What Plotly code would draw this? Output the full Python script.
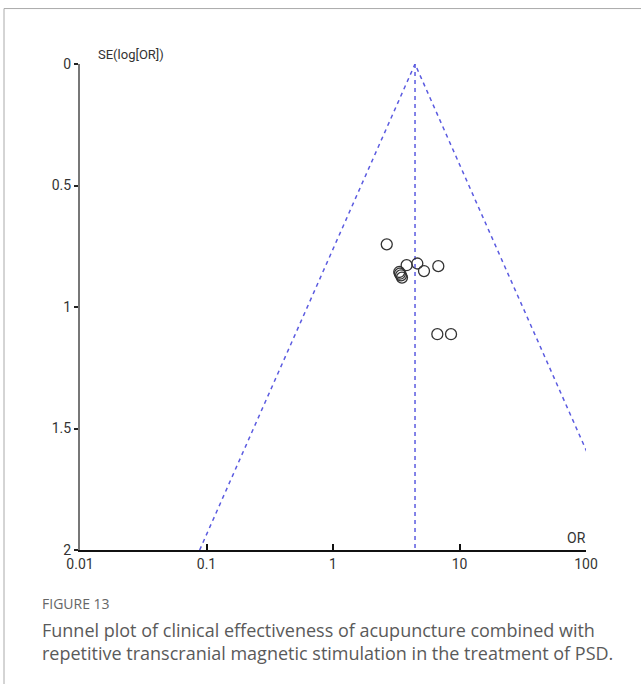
import numpy as np
import plotly.graph_objects as go

# Study estimates
study_or = [2.66, 3.34, 3.38, 3.45, 3.51, 3.82, 4.64, 5.24, 6.80, 6.68, 8.57]
study_se = [0.742, 0.856, 0.863, 0.870, 0.879, 0.828, 0.821, 0.852, 0.832, 1.112, 1.112]

pooled_or = 4.45
se_range = [0, 2]
z = 1.96

x_ticks = [0.01, 0.1, 1, 10, 100]
x_tick_labels = ["0.01", "0.1", "1", "10", "100"]
y_ticks = [0, 0.5, 1, 1.5, 2]
y_tick_labels = ["0", "0.5", "1", "1.5", "2"]

caption_head = "FIGURE 13"
caption_lines = [
    "Funnel plot of clinical effectiveness of acupuncture combined with",
    "repetitive transcranial magnetic stimulation in the treatment of PSD.",
]

W, H = 641, 684
L, R, T, B = 80, 586, 63.5, 550  # plot area in pixels
pw, ph = R - L, B - T


def px(x):
    return (x - L) / pw


def py(y):
    return (B - y) / ph


tick_font = dict(family="Roboto, Liberation Sans, sans-serif", size=14, color="#333")
funnel_color = "#5b5be0"

fig = go.Figure()

# funnel lines
lnp = np.log(pooled_or)
se_max = se_range[1]
fig.add_trace(go.Scatter(
    x=[np.exp(lnp - z * se_max), pooled_or, np.exp(lnp + z * se_max)],
    y=[se_max, se_range[0], se_max],
    mode="lines", line=dict(color=funnel_color, width=1.5, dash="4px,4px"),
    hoverinfo="skip", showlegend=False,
))
fig.add_trace(go.Scatter(
    x=[pooled_or, pooled_or], y=se_range,
    mode="lines", line=dict(color=funnel_color, width=1.5, dash="4px,4px"),
    hoverinfo="skip", showlegend=False,
))
# studies
fig.add_trace(go.Scatter(
    x=study_or, y=study_se, mode="markers",
    marker=dict(symbol="circle-open", size=11, color="#333", line=dict(width=1.3, color="#333")),
    showlegend=False,
))

fig.update_xaxes(
    type="log", range=[-2, 2], tickvals=x_ticks, ticktext=x_tick_labels,
    showgrid=False, zeroline=False, showline=True, linecolor="#111", linewidth=2,
    ticks="inside", ticklen=6, tickwidth=1.5, tickcolor="#111", tickfont=tick_font,
)
fig.update_yaxes(
    range=[2, 0], tickvals=y_ticks, ticktext=y_tick_labels,
    showgrid=False, zeroline=False, showline=True, linecolor="#777", linewidth=2,
    ticks="outside", ticklen=4, tickwidth=1.5, tickcolor="#222", tickfont=tick_font,
)

cap_font = dict(family="Open Sans, sans-serif", size=18, color="#5a5a5a")
annotations = [
    dict(text="SE(log[OR])", x=px(96), y=py(54), xref="paper", yref="paper",
         xanchor="left", yanchor="middle", showarrow=False,
         font=dict(family="Roboto, sans-serif", size=13, color="#333")),
    dict(text="OR", x=px(576), y=py(538), xref="paper", yref="paper",
         xanchor="center", yanchor="middle", showarrow=False, font=tick_font),
    dict(text=caption_head, x=px(40), y=py(604), xref="paper", yref="paper",
         xanchor="left", yanchor="middle", showarrow=False,
         font=dict(family="Open Sans, sans-serif", size=14, color="#666")),
    dict(text=caption_lines[0], x=px(40), y=py(630), xref="paper", yref="paper",
         xanchor="left", yanchor="middle", showarrow=False, font=cap_font),
    dict(text=caption_lines[1], x=px(40), y=py(653), xref="paper", yref="paper",
         xanchor="left", yanchor="middle", showarrow=False, font=cap_font),
]

shapes = [
    dict(type="line", xref="paper", yref="paper", x0=px(4), x1=px(W + 5), y0=py(8), y1=py(8),
         line=dict(color="#aaa", width=1)),
    dict(type="line", xref="paper", yref="paper", x0=px(4), x1=px(4), y0=py(8), y1=py(H + 5),
         line=dict(color="#aaa", width=1)),
]

fig.update_layout(
    width=W, height=H,
    margin=dict(l=L, r=W - R, t=T, b=H - B, autoexpand=False),
    plot_bgcolor="white", paper_bgcolor="white",
    annotations=annotations, shapes=shapes,
)

fig.write_html(
    "out.html",
    config={"displayModeBar": False},
    post_script="document.body.style.margin='0';document.body.style.overflow='hidden';",
)
